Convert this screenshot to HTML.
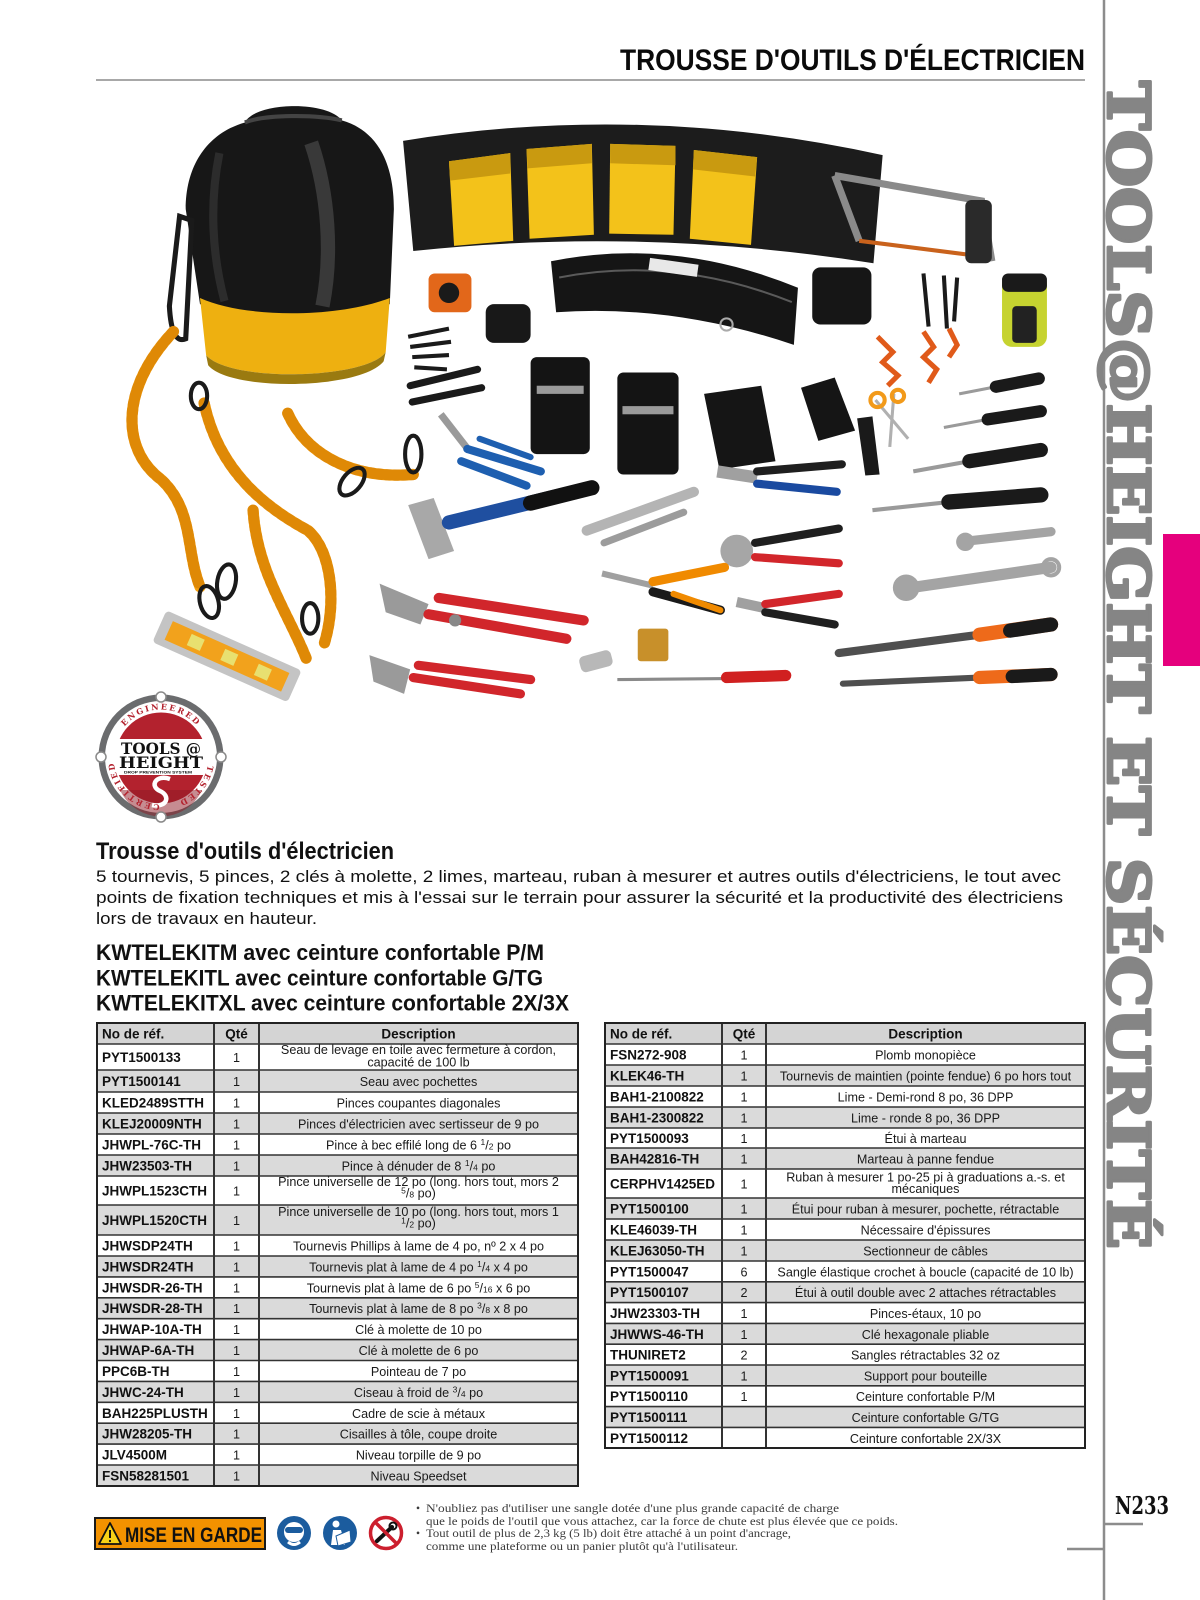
<!DOCTYPE html>
<html><head><meta charset="utf-8">
<style>
html,body{margin:0;padding:0;background:#fff;}
body{width:1200px;height:1600px;overflow:hidden;position:relative;}
svg{position:absolute;left:0;top:0;}
.r{font:bold 13.5px "Liberation Sans",sans-serif;fill:#111;}
.h{font:bold 13.5px "Liberation Sans",sans-serif;fill:#111;}
.q{font:12.6px "Liberation Sans",sans-serif;fill:#1a1a1a;text-anchor:middle;}
.d{font:12.6px "Liberation Sans",sans-serif;fill:#1a1a1a;text-anchor:middle;}
.w{font:11.5px "Liberation Serif",serif;fill:#3a3a3a;}
</style></head>
<body>
<svg width="1200" height="1600" viewBox="0 0 1200 1600" xmlns="http://www.w3.org/2000/svg">
<rect width="1200" height="1600" fill="#fff"/>

<!-- ===== Header ===== -->
<text x="620" y="70" font-family="Liberation Sans, sans-serif" font-weight="bold" font-size="29.5" fill="#0a0a0a" textLength="465" lengthAdjust="spacingAndGlyphs">TROUSSE D'OUTILS D'ÉLECTRICIEN</text>
<line x1="96" y1="80" x2="1085" y2="80" stroke="#a8a8a8" stroke-width="2"/>

<!-- right side decoration -->
<line x1="1104" y1="0" x2="1104" y2="1600" stroke="#8c8c8c" stroke-width="2.5"/>
<rect x="1163" y="534" width="37" height="132" fill="#e5007d"/>
<text transform="translate(1108,81) rotate(90)" font-family="'DejaVu Serif', 'Liberation Serif', serif" font-weight="bold" font-size="58" fill="#858585" stroke="#858585" stroke-width="3" stroke-linejoin="round" textLength="1168" lengthAdjust="spacingAndGlyphs">TOOLS@HEIGHT ET SÉCURITÉ</text>
<text x="1115" y="1514" font-family="'DejaVu Serif', 'Liberation Serif', serif" font-weight="bold" font-size="24" fill="#111" textLength="54" lengthAdjust="spacingAndGlyphs">N233</text>
<line x1="1104" y1="1524" x2="1143" y2="1524" stroke="#8c8c8c" stroke-width="2.5"/>
<line x1="1067" y1="1549" x2="1104" y2="1549" stroke="#8c8c8c" stroke-width="2.5"/>

<!-- ===== Photo (drawn in display coords, scaled) ===== -->
<g transform="scale(1.0204)">
  <!-- Bag -->
  <path d="M182 205 C 182 160, 205 130, 240 120 C 250 100, 320 98, 335 118 C 370 128, 386 160, 386 205 L 382 298 C 330 315, 240 315, 196 298 Z" fill="#171717"/>
  <path d="M240 120 C 260 112, 310 112, 335 118" stroke="#444" stroke-width="4" fill="none"/>
  <path d="M305 140 C 322 190, 326 250, 316 300" stroke="#555" stroke-width="14" fill="none" opacity=".55"/>
  <path d="M215 150 C 205 200, 208 250, 220 295" stroke="#3a3a3a" stroke-width="8" fill="none" opacity=".6"/>
  <path d="M196 292 C 240 312, 330 312, 382 292 L 378 345 C 360 372, 225 375, 202 348 Z" fill="#eeb010"/>
  <path d="M202 348 C 225 375, 360 372, 378 345 L 376 354 C 355 382, 225 384, 204 358 Z" fill="#9a7a10"/>
  <path d="M176 212 L 166 300 Q 168 338 182 332 L 188 216 Z" fill="none" stroke="#1a1a1a" stroke-width="5"/>

  <!-- Tool pouch with yellow pockets -->
  <path d="M395 138 Q 630 100 865 152 L 856 258 Q 630 222 405 246 Z" fill="#1c1c1c"/>
  <path d="M440 158 L 500 150 L 503 236 L 445 241 Z" fill="#f3c21a"/>
  <path d="M516 146 L 580 141 L 582 230 L 519 234 Z" fill="#f3c21a"/>
  <path d="M598 141 L 662 143 L 660 230 L 597 229 Z" fill="#f3c21a"/>
  <path d="M680 147 L 742 154 L 736 240 L 676 234 Z" fill="#f3c21a"/>
  <path d="M440 158 L 500 150 L 500 170 L 441 177 Z" fill="#c99a10"/>
  <path d="M516 146 L 580 141 L 580 160 L 517 165 Z" fill="#c99a10"/>
  <path d="M598 141 L 662 143 L 662 162 L 598 160 Z" fill="#c99a10"/>
  <path d="M680 147 L 742 154 L 740 173 L 679 166 Z" fill="#c99a10"/>

  <!-- Hacksaw -->
  <path d="M818 172 L 962 197 L 972 256" stroke="#8a8a8a" stroke-width="7" fill="none"/>
  <path d="M818 172 L 842 236" stroke="#8a8a8a" stroke-width="7" fill="none"/>
  <path d="M842 236 L 968 252" stroke="#c9621c" stroke-width="4" fill="none"/>
  <rect x="946" y="196" width="26" height="62" rx="6" fill="#2a2a2a"/>

  <!-- Tape measure & small pouch -->
  <rect x="420" y="268" width="42" height="38" rx="6" fill="#e2671a"/>
  <circle cx="440" cy="287" r="10" fill="#1a1a1a"/>
  <rect x="476" y="298" width="44" height="38" rx="8" fill="#181818"/>

  <!-- Belt -->
  <path d="M540 256 Q 660 232 782 282 L 778 338 Q 660 298 545 306 Z" fill="#151515"/>
  <path d="M548 272 Q 660 250 776 296" stroke="#5a5a5a" stroke-width="2" fill="none"/>
  <rect x="636" y="256" width="48" height="12" fill="#e8e8e8" transform="rotate(8 660 262)"/>
  <circle cx="712" cy="318" r="6" fill="none" stroke="#aaa" stroke-width="2"/>

  <!-- retractables, pouches -->
  <rect x="796" y="262" width="58" height="56" rx="8" fill="#161616"/>
  <path d="M905 268 L 910 320 M925 270 L 928 322 M938 272 L 935 315" stroke="#1a1a1a" stroke-width="4"/>
  <path d="M860 330 L 875 345 L 865 355 L 880 368 L 870 378 M905 325 L 915 340 L 905 350 L 918 362 L 910 375 M930 322 L 938 338 L 930 350" stroke="#e05a1a" stroke-width="5" fill="none"/>
  <rect x="982" y="268" width="44" height="72" rx="10" fill="#c6d330"/>
  <rect x="982" y="268" width="44" height="18" rx="6" fill="#1a1a1a"/>
  <rect x="992" y="300" width="24" height="36" rx="4" fill="#222"/>

  <!-- hex key, small tools -->
  <path d="M400 330 L 440 322 M402 340 L 442 335 M404 350 L 440 348 M406 360 L 438 362" stroke="#1a1a1a" stroke-width="4"/>
  <path d="M402 378 L 468 362 M404 394 L 472 380" stroke="#1a1a1a" stroke-width="7" stroke-linecap="round"/>

  <!-- black pouches -->
  <rect x="520" y="350" width="58" height="95" rx="6" fill="#141414"/>
  <rect x="526" y="378" width="46" height="8" fill="#9a9a9a"/>
  <rect x="605" y="365" width="60" height="100" rx="6" fill="#141414"/>
  <rect x="610" y="398" width="50" height="8" fill="#9a9a9a"/>
  <path d="M690 386 L 746 378 L 760 452 L 705 460 Z" fill="#151515"/>
  <path d="M785 380 L 818 370 L 838 422 L 802 432 Z" fill="#151515"/>
  <path d="M840 410 L 855 408 L 862 465 L 848 466 Z" fill="#1a1a1a"/>
  <path d="M858 392 L 890 430 M876 386 L 872 438" stroke="#b0b0b0" stroke-width="3"/>
  <circle cx="860" cy="392" r="7" fill="none" stroke="#f29a1a" stroke-width="4"/>
  <circle cx="880" cy="388" r="6" fill="none" stroke="#f29a1a" stroke-width="4"/>

  <!-- blue pliers -->
  <path d="M432 406 L 460 442" stroke="#9a9a9a" stroke-width="7"/>
  <path d="M458 440 L 530 462" stroke="#1e5fb0" stroke-width="8" stroke-linecap="round"/>
  <path d="M452 452 L 516 476" stroke="#1e5fb0" stroke-width="8" stroke-linecap="round"/>
  <path d="M470 430 L 520 448" stroke="#1e5fb0" stroke-width="6" stroke-linecap="round"/>

  <!-- hammer -->
  <path d="M400 495 L 425 488 L 445 540 L 420 548 Z" fill="#a8a8a8"/>
  <path d="M440 512 L 580 478" stroke="#1f4fa0" stroke-width="14" stroke-linecap="round"/>
  <path d="M520 493 L 580 478" stroke="#111" stroke-width="15" stroke-linecap="round"/>

  <!-- locking pliers -->
  <path d="M575 520 L 680 482" stroke="#b4b4b4" stroke-width="10" stroke-linecap="round"/>
  <path d="M592 532 L 670 502" stroke="#9c9c9c" stroke-width="7" stroke-linecap="round"/>

  <!-- pliers right-middle -->
  <path d="M703 462 L 742 468" stroke="#a0a0a0" stroke-width="12"/>
  <path d="M742 462 L 825 455" stroke="#1f1f1f" stroke-width="8" stroke-linecap="round"/>
  <path d="M742 474 L 820 482" stroke="#1a4aa0" stroke-width="8" stroke-linecap="round"/>
  <circle cx="722" cy="540" r="16" fill="#a6a6a6"/>
  <path d="M740 532 L 822 518" stroke="#1f1f1f" stroke-width="8" stroke-linecap="round"/>
  <path d="M740 546 L 822 552" stroke="#d2262b" stroke-width="8" stroke-linecap="round"/>
  <path d="M722 590 L 750 596" stroke="#a0a0a0" stroke-width="10"/>
  <path d="M750 592 L 822 582" stroke="#d2262b" stroke-width="8" stroke-linecap="round"/>
  <path d="M750 600 L 818 612" stroke="#1f1f1f" stroke-width="8" stroke-linecap="round"/>

  <!-- red water pump pliers -->
  <path d="M372 572 L 420 592 L 412 612 L 378 600 Z" fill="#9a9a9a"/>
  <path d="M430 586 L 572 608" stroke="#d1262b" stroke-width="10" stroke-linecap="round"/>
  <path d="M420 602 L 555 626" stroke="#d1262b" stroke-width="10" stroke-linecap="round"/>
  <path d="M362 642 L 402 656 L 396 680 L 366 668 Z" fill="#9a9a9a"/>
  <path d="M410 652 L 520 666" stroke="#d1262b" stroke-width="9" stroke-linecap="round"/>
  <path d="M405 664 L 510 680" stroke="#d1262b" stroke-width="9" stroke-linecap="round"/>

  <!-- tin snips -->
  <path d="M590 562 L 640 574" stroke="#a0a0a0" stroke-width="6"/>
  <path d="M640 570 L 710 556" stroke="#f08a00" stroke-width="9" stroke-linecap="round"/>
  <path d="M640 580 L 706 598" stroke="#1a1a1a" stroke-width="9" stroke-linecap="round"/>
  <path d="M660 582 L 706 598" stroke="#f08a00" stroke-width="6" stroke-linecap="round"/>

  <!-- small items -->
  <rect x="625" y="616" width="30" height="32" rx="3" fill="#c8902a"/>
  <rect x="568" y="640" width="32" height="16" rx="5" fill="#b8b8b8" transform="rotate(-15 584 648)"/>
  <path d="M605 666 L 712 665" stroke="#8a8a8a" stroke-width="3"/>
  <path d="M712 664 L 770 662" stroke="#d02020" stroke-width="11" stroke-linecap="round"/>
  <circle cx="446" cy="608" r="6" fill="#888"/>

  <!-- right screwdrivers -->
  <path d="M940 386 L 976 379" stroke="#9a9a9a" stroke-width="3"/>
  <path d="M976 379 L 1018 371" stroke="#1a1a1a" stroke-width="12" stroke-linecap="round"/>
  <path d="M925 419 L 968 411" stroke="#9a9a9a" stroke-width="3"/>
  <path d="M968 411 L 1020 403" stroke="#1a1a1a" stroke-width="12" stroke-linecap="round"/>
  <path d="M895 462 L 950 452" stroke="#9a9a9a" stroke-width="4"/>
  <path d="M950 452 L 1020 441" stroke="#1a1a1a" stroke-width="14" stroke-linecap="round"/>
  <path d="M855 500 L 930 492" stroke="#9a9a9a" stroke-width="4"/>
  <path d="M930 492 L 1020 485" stroke="#1a1a1a" stroke-width="15" stroke-linecap="round"/>

  <!-- wrenches -->
  <path d="M950 530 L 1030 521" stroke="#a4a4a4" stroke-width="9" stroke-linecap="round"/>
  <circle cx="946" cy="531" r="9" fill="#a4a4a4"/>
  <path d="M892 576 L 1030 556" stroke="#a4a4a4" stroke-width="11" stroke-linecap="round"/>
  <circle cx="888" cy="576" r="13" fill="#a4a4a4"/>
  <circle cx="1030" cy="556" r="8" fill="none" stroke="#a4a4a4" stroke-width="4"/>

  <!-- files -->
  <path d="M822 640 L 960 622" stroke="#4f4f4f" stroke-width="8" stroke-linecap="round"/>
  <path d="M960 622 L 1030 612" stroke="#ee6a1a" stroke-width="14" stroke-linecap="round"/>
  <path d="M990 618 L 1030 612" stroke="#1a1a1a" stroke-width="14" stroke-linecap="round"/>
  <path d="M826 670 L 960 664" stroke="#4f4f4f" stroke-width="6" stroke-linecap="round"/>
  <path d="M960 664 L 1030 661" stroke="#ee6a1a" stroke-width="13" stroke-linecap="round"/>
  <path d="M992 663 L 1030 661" stroke="#1a1a1a" stroke-width="13" stroke-linecap="round"/>

  <!-- orange lanyards -->
  <g fill="none" stroke-linecap="round" stroke-linejoin="round">
    <path d="M170 325 C 118 380, 118 440, 158 470 C 190 500, 182 540, 196 575" stroke="#f5a00f" stroke-width="11"/>
    <path d="M200 395 C 215 465, 265 500, 302 520 C 325 540, 330 590, 318 630" stroke="#f5a00f" stroke-width="11"/>
    <path d="M282 405 C 300 445, 345 470, 405 465" stroke="#f5a00f" stroke-width="11"/>
    <path d="M248 500 C 252 560, 282 600, 300 645" stroke="#f5a00f" stroke-width="11"/>
    <path d="M170 325 C 118 380, 118 440, 158 470 C 190 500, 182 540, 196 575" stroke="#d07a00" stroke-width="11" stroke-dasharray="3 5" opacity=".6"/>
    <path d="M200 395 C 215 465, 265 500, 302 520 C 325 540, 330 590, 318 630" stroke="#d07a00" stroke-width="11" stroke-dasharray="3 5" opacity=".6"/>
    <path d="M282 405 C 300 445, 345 470, 405 465" stroke="#d07a00" stroke-width="11" stroke-dasharray="3 5" opacity=".6"/>
    <path d="M248 500 C 252 560, 282 600, 300 645" stroke="#d07a00" stroke-width="11" stroke-dasharray="3 5" opacity=".6"/>
    <ellipse cx="205" cy="590" rx="9" ry="16" stroke="#1a1a1a" stroke-width="4" transform="rotate(-15 205 590)"/>
    <ellipse cx="345" cy="472" rx="9" ry="16" stroke="#1a1a1a" stroke-width="4" transform="rotate(40 345 472)"/>
    <ellipse cx="405" cy="445" rx="8" ry="18" stroke="#1a1a1a" stroke-width="4"/>
    <ellipse cx="222" cy="570" rx="9" ry="17" stroke="#1a1a1a" stroke-width="4" transform="rotate(10 222 570)"/>
    <ellipse cx="304" cy="606" rx="8" ry="15" stroke="#1a1a1a" stroke-width="4"/>
    <ellipse cx="195" cy="388" rx="8" ry="13" stroke="#1a1a1a" stroke-width="4"/>
  </g>

  <!-- level -->
  <g transform="translate(222 643) rotate(24)">
    <rect x="-72" y="-17" width="145" height="34" rx="4" fill="#c4c4c4"/>
    <rect x="-62" y="-10" width="125" height="20" fill="#f2a21c"/>
    <rect x="-40" y="-6" width="14" height="12" fill="#e8e070"/>
    <rect x="-4" y="-6" width="14" height="12" fill="#e8e070"/>
    <rect x="32" y="-6" width="14" height="12" fill="#e8e070"/>
  </g>
</g>

<!-- ===== Logo ===== -->
<g>
  <circle cx="161" cy="757" r="62.5" fill="#6b6c6e"/>
  <circle cx="161" cy="757" r="56" fill="#fff"/>
  <circle cx="161" cy="758" r="45.5" fill="#b3222e"/>
  <path d="M120 790 A 45 45 0 0 0 202 790 Z" fill="#8e1a24" opacity=".5"/>
  <rect x="113" y="739" width="96" height="36" fill="#fff"/>
  <text x="161" y="754" text-anchor="middle" font-family="'DejaVu Serif', 'Liberation Serif', serif" font-weight="bold" font-size="16" fill="#111" textLength="80" lengthAdjust="spacingAndGlyphs">TOOLS @</text>
  <text x="161" y="768" text-anchor="middle" font-family="'DejaVu Serif', 'Liberation Serif', serif" font-weight="bold" font-size="16" fill="#111" textLength="84" lengthAdjust="spacingAndGlyphs">HEIGHT</text>
  <text x="158" y="773.5" text-anchor="middle" font-family="Liberation Sans, sans-serif" font-weight="bold" font-size="4" fill="#111" textLength="68" lengthAdjust="spacingAndGlyphs">DROP PREVENTION SYSTEM</text>
  <path d="M170 779 C 156 774, 149 786, 160 791 C 171 796, 167 808, 152 805" stroke="#fff" stroke-width="4.5" fill="none"/>
  <defs>
    <path id="ring" d="M 113.5 757 A 47.5 47.5 0 1 1 208.5 757 A 47.5 47.5 0 1 1 113.5 757"/>
  </defs>
  <text font-family="'DejaVu Serif', 'Liberation Serif', serif" font-weight="bold" font-size="8" fill="#b3222e" letter-spacing="2">
    <textPath href="#ring" startOffset="25%" text-anchor="middle">ENGINEERED</textPath>
  </text>
  <text font-family="'DejaVu Serif', 'Liberation Serif', serif" font-weight="bold" font-size="8" fill="#b3222e" letter-spacing="2">
    <textPath href="#ring" startOffset="61%" text-anchor="middle">TESTED</textPath>
  </text>
  <text font-family="'DejaVu Serif', 'Liberation Serif', serif" font-weight="bold" font-size="8" fill="#b3222e" letter-spacing="2">
    <textPath href="#ring" startOffset="87%" text-anchor="middle">CERTIFIED</textPath>
  </text>
  <circle cx="161" cy="697" r="5" fill="#fff" stroke="#8a8a8a" stroke-width="1.5"/>
  <circle cx="101" cy="757" r="5" fill="#fff" stroke="#8a8a8a" stroke-width="1.5"/>
  <circle cx="221" cy="757" r="5" fill="#fff" stroke="#8a8a8a" stroke-width="1.5"/>
  <circle cx="161" cy="817" r="5" fill="#fff" stroke="#8a8a8a" stroke-width="1.5"/>
</g>

<!-- ===== Headings ===== -->
<text x="96" y="859" font-family="Liberation Sans, sans-serif" font-weight="bold" font-size="24.5" fill="#111" textLength="298" lengthAdjust="spacingAndGlyphs">Trousse d'outils d'électricien</text>
<g font-family="Liberation Sans, sans-serif" font-size="16.5" fill="#111">
  <text x="96" y="882" textLength="965" lengthAdjust="spacingAndGlyphs">5 tournevis, 5 pinces, 2 clés à molette, 2 limes, marteau, ruban à mesurer et autres outils d'électriciens, le tout avec</text>
  <text x="96" y="903" textLength="967" lengthAdjust="spacingAndGlyphs">points de fixation techniques et mis à l'essai sur le terrain pour assurer la sécurité et la productivité des électriciens</text>
  <text x="96" y="924" textLength="221" lengthAdjust="spacingAndGlyphs">lors de travaux en hauteur.</text>
</g>
<g font-family="Liberation Sans, sans-serif" font-weight="bold" font-size="22.5" fill="#111">
  <text x="96" y="960" textLength="448" lengthAdjust="spacingAndGlyphs">KWTELEKITM avec ceinture confortable P/M</text>
  <text x="96" y="985.7" textLength="447" lengthAdjust="spacingAndGlyphs">KWTELEKITL avec ceinture confortable G/TG</text>
  <text x="96" y="1010.7" textLength="473" lengthAdjust="spacingAndGlyphs">KWTELEKITXL avec ceinture confortable 2X/3X</text>
</g>

<!-- ===== Left table ===== -->
<g>
  <rect x="97" y="1023" width="481" height="21" fill="#d4d4d4"/>
  <rect x="97" y="1070" width="481" height="22" fill="#dadada"/>
  <rect x="97" y="1113" width="481" height="21" fill="#dadada"/>
  <rect x="97" y="1155" width="481" height="21" fill="#dadada"/>
  <rect x="97" y="1205" width="481" height="30" fill="#dadada"/>
  <rect x="97" y="1256" width="481" height="20.9" fill="#dadada"/>
  <rect x="97" y="1297.8" width="481" height="20.9" fill="#dadada"/>
  <rect x="97" y="1339.6" width="481" height="20.9" fill="#dadada"/>
  <rect x="97" y="1381.4" width="481" height="20.9" fill="#dadada"/>
  <rect x="97" y="1423.2" width="481" height="20.9" fill="#dadada"/>
  <rect x="97" y="1465" width="481" height="21" fill="#dadada"/>
  <g stroke="#333" stroke-width="1.6">
    <line x1="97" x2="578" y1="1044" y2="1044"/>
    <line x1="97" x2="578" y1="1070" y2="1070"/>
    <line x1="97" x2="578" y1="1092" y2="1092"/>
    <line x1="97" x2="578" y1="1113" y2="1113"/>
    <line x1="97" x2="578" y1="1134" y2="1134"/>
    <line x1="97" x2="578" y1="1155" y2="1155"/>
    <line x1="97" x2="578" y1="1176" y2="1176"/>
    <line x1="97" x2="578" y1="1205" y2="1205"/>
    <line x1="97" x2="578" y1="1235" y2="1235"/>
    <line x1="97" x2="578" y1="1256" y2="1256"/>
    <line x1="97" x2="578" y1="1276.9" y2="1276.9"/>
    <line x1="97" x2="578" y1="1297.8" y2="1297.8"/>
    <line x1="97" x2="578" y1="1318.7" y2="1318.7"/>
    <line x1="97" x2="578" y1="1339.6" y2="1339.6"/>
    <line x1="97" x2="578" y1="1360.5" y2="1360.5"/>
    <line x1="97" x2="578" y1="1381.4" y2="1381.4"/>
    <line x1="97" x2="578" y1="1402.3" y2="1402.3"/>
    <line x1="97" x2="578" y1="1423.2" y2="1423.2"/>
    <line x1="97" x2="578" y1="1444.1" y2="1444.1"/>
    <line x1="97" x2="578" y1="1465" y2="1465"/>
    <line x1="214" x2="214" y1="1023" y2="1486" stroke-width="2"/>
    <line x1="259" x2="259" y1="1023" y2="1486" stroke-width="2"/>
  </g>
  <rect x="97" y="1023" width="481" height="463" fill="none" stroke="#222" stroke-width="2"/>

  <text class="h" x="102" y="1038.5">No de réf.</text>
  <text class="h" x="236.5" y="1038.5" text-anchor="middle">Qté</text>
  <text class="h" x="418.5" y="1038.5" text-anchor="middle">Description</text>

  <text class="r" x="102" y="1062">PYT1500133</text><text class="q" x="236.5" y="1062">1</text>
  <text class="d" x="418.5" y="1054">Seau de levage en toile avec fermeture à cordon,</text>
  <text class="d" x="418.5" y="1066.5">capacité de 100 lb</text>

  <text class="r" x="102" y="1086">PYT1500141</text><text class="q" x="236.5" y="1086">1</text><text class="d" x="418.5" y="1086">Seau avec pochettes</text>
  <text class="r" x="102" y="1107.5">KLED2489STTH</text><text class="q" x="236.5" y="1107.5">1</text><text class="d" x="418.5" y="1107.5">Pinces coupantes diagonales</text>
  <text class="r" x="102" y="1128.5">KLEJ20009NTH</text><text class="q" x="236.5" y="1128.5">1</text><text class="d" x="418.5" y="1128.5">Pinces d'électricien avec sertisseur de 9 po</text>
  <text class="r" x="102" y="1149.5">JHWPL-76C-TH</text><text class="q" x="236.5" y="1149.5">1</text><text class="d" x="418.5" y="1149.5">Pince à bec effilé long de 6 <tspan font-size="8.5" dy="-4.5">1</tspan><tspan dy="4.5">/</tspan><tspan font-size="8.5">2</tspan> po</text>
  <text class="r" x="102" y="1170.5">JHW23503-TH</text><text class="q" x="236.5" y="1170.5">1</text><text class="d" x="418.5" y="1170.5">Pince à dénuder de 8 <tspan font-size="8.5" dy="-4.5">1</tspan><tspan dy="4.5">/</tspan><tspan font-size="8.5">4</tspan> po</text>

  <text class="r" x="102" y="1195.5">JHWPL1523CTH</text><text class="q" x="236.5" y="1195.5">1</text>
  <text class="d" x="418.5" y="1186">Pince universelle de 12 po (long. hors tout, mors 2</text>
  <text class="d" x="418.5" y="1197.5"><tspan font-size="8.5" dy="-4">5</tspan><tspan dy="4">/</tspan><tspan font-size="8.5">8</tspan> po)</text>

  <text class="r" x="102" y="1225">JHWPL1520CTH</text><text class="q" x="236.5" y="1225">1</text>
  <text class="d" x="418.5" y="1216">Pince universelle de 10 po (long. hors tout, mors 1</text>
  <text class="d" x="418.5" y="1227.5"><tspan font-size="8.5" dy="-4">1</tspan><tspan dy="4">/</tspan><tspan font-size="8.5">2</tspan> po)</text>

  <text class="r" x="102" y="1250.5">JHWSDP24TH</text><text class="q" x="236.5" y="1250.5">1</text><text class="d" x="418.5" y="1250.5">Tournevis Phillips à lame de 4 po, nº 2 x 4 po</text>
  <text class="r" x="102" y="1271.5">JHWSDR24TH</text><text class="q" x="236.5" y="1271.5">1</text><text class="d" x="418.5" y="1271.5">Tournevis plat à lame de 4 po <tspan font-size="8.5" dy="-4.5">1</tspan><tspan dy="4.5">/</tspan><tspan font-size="8.5">4</tspan> x 4 po</text>
  <text class="r" x="102" y="1292.3">JHWSDR-26-TH</text><text class="q" x="236.5" y="1292.3">1</text><text class="d" x="418.5" y="1292.3">Tournevis plat à lame de 6 po <tspan font-size="8.5" dy="-4.5">5</tspan><tspan dy="4.5">/</tspan><tspan font-size="8.5">16</tspan> x 6 po</text>
  <text class="r" x="102" y="1313.2">JHWSDR-28-TH</text><text class="q" x="236.5" y="1313.2">1</text><text class="d" x="418.5" y="1313.2">Tournevis plat à lame de 8 po <tspan font-size="8.5" dy="-4.5">3</tspan><tspan dy="4.5">/</tspan><tspan font-size="8.5">8</tspan> x 8 po</text>
  <text class="r" x="102" y="1334.1">JHWAP-10A-TH</text><text class="q" x="236.5" y="1334.1">1</text><text class="d" x="418.5" y="1334.1">Clé à molette de 10 po</text>
  <text class="r" x="102" y="1355">JHWAP-6A-TH</text><text class="q" x="236.5" y="1355">1</text><text class="d" x="418.5" y="1355">Clé à molette de 6 po</text>
  <text class="r" x="102" y="1376">PPC6B-TH</text><text class="q" x="236.5" y="1376">1</text><text class="d" x="418.5" y="1376">Pointeau de 7 po</text>
  <text class="r" x="102" y="1396.9">JHWC-24-TH</text><text class="q" x="236.5" y="1396.9">1</text><text class="d" x="418.5" y="1396.9">Ciseau à froid de <tspan font-size="8.5" dy="-4.5">3</tspan><tspan dy="4.5">/</tspan><tspan font-size="8.5">4</tspan> po</text>
  <text class="r" x="102" y="1417.8">BAH225PLUSTH</text><text class="q" x="236.5" y="1417.8">1</text><text class="d" x="418.5" y="1417.8">Cadre de scie à métaux</text>
  <text class="r" x="102" y="1438.7">JHW28205-TH</text><text class="q" x="236.5" y="1438.7">1</text><text class="d" x="418.5" y="1438.7">Cisailles à tôle, coupe droite</text>
  <text class="r" x="102" y="1459.6">JLV4500M</text><text class="q" x="236.5" y="1459.6">1</text><text class="d" x="418.5" y="1459.6">Niveau torpille de 9 po</text>
  <text class="r" x="102" y="1480.5">FSN58281501</text><text class="q" x="236.5" y="1480.5">1</text><text class="d" x="418.5" y="1480.5">Niveau Speedset</text>
</g>

<!-- ===== Right table ===== -->
<g>
  <rect x="605" y="1023" width="480" height="21" fill="#d4d4d4"/>
  <rect x="605" y="1065" width="480" height="21" fill="#dadada"/>
  <rect x="605" y="1107" width="480" height="21" fill="#dadada"/>
  <rect x="605" y="1148" width="480" height="21" fill="#dadada"/>
  <rect x="605" y="1198" width="480" height="21" fill="#dadada"/>
  <rect x="605" y="1240" width="480" height="21" fill="#dadada"/>
  <rect x="605" y="1281.8" width="480" height="20.8" fill="#dadada"/>
  <rect x="605" y="1323.4" width="480" height="20.8" fill="#dadada"/>
  <rect x="605" y="1365" width="480" height="20.8" fill="#dadada"/>
  <rect x="605" y="1406.6" width="480" height="20.8" fill="#dadada"/>
  <g stroke="#333" stroke-width="1.6">
    <line x1="605" x2="1085" y1="1044" y2="1044"/>
    <line x1="605" x2="1085" y1="1065" y2="1065"/>
    <line x1="605" x2="1085" y1="1086" y2="1086"/>
    <line x1="605" x2="1085" y1="1107" y2="1107"/>
    <line x1="605" x2="1085" y1="1128" y2="1128"/>
    <line x1="605" x2="1085" y1="1148" y2="1148"/>
    <line x1="605" x2="1085" y1="1169" y2="1169"/>
    <line x1="605" x2="1085" y1="1198" y2="1198"/>
    <line x1="605" x2="1085" y1="1219" y2="1219"/>
    <line x1="605" x2="1085" y1="1240" y2="1240"/>
    <line x1="605" x2="1085" y1="1261" y2="1261"/>
    <line x1="605" x2="1085" y1="1281.8" y2="1281.8"/>
    <line x1="605" x2="1085" y1="1302.6" y2="1302.6"/>
    <line x1="605" x2="1085" y1="1323.4" y2="1323.4"/>
    <line x1="605" x2="1085" y1="1344.2" y2="1344.2"/>
    <line x1="605" x2="1085" y1="1365" y2="1365"/>
    <line x1="605" x2="1085" y1="1385.8" y2="1385.8"/>
    <line x1="605" x2="1085" y1="1406.6" y2="1406.6"/>
    <line x1="605" x2="1085" y1="1427.4" y2="1427.4"/>
    <line x1="722" x2="722" y1="1023" y2="1448" stroke-width="2"/>
    <line x1="766" x2="766" y1="1023" y2="1448" stroke-width="2"/>
  </g>
  <rect x="605" y="1023" width="480" height="425" fill="none" stroke="#222" stroke-width="2"/>

  <text class="h" x="610" y="1038.5">No de réf.</text>
  <text class="h" x="744" y="1038.5" text-anchor="middle">Qté</text>
  <text class="h" x="925.5" y="1038.5" text-anchor="middle">Description</text>

  <text class="r" x="610" y="1059.5">FSN272-908</text><text class="q" x="744" y="1059.5">1</text><text class="d" x="925.5" y="1059.5">Plomb monopièce</text>
  <text class="r" x="610" y="1080.5">KLEK46-TH</text><text class="q" x="744" y="1080.5">1</text><text class="d" x="925.5" y="1080.5">Tournevis de maintien (pointe fendue) 6 po hors tout</text>
  <text class="r" x="610" y="1101.5">BAH1-2100822</text><text class="q" x="744" y="1101.5">1</text><text class="d" x="925.5" y="1101.5">Lime - Demi-rond 8 po, 36 DPP</text>
  <text class="r" x="610" y="1122.5">BAH1-2300822</text><text class="q" x="744" y="1122.5">1</text><text class="d" x="925.5" y="1122.5">Lime - ronde 8 po, 36 DPP</text>
  <text class="r" x="610" y="1143">PYT1500093</text><text class="q" x="744" y="1143">1</text><text class="d" x="925.5" y="1143">Étui à marteau</text>
  <text class="r" x="610" y="1163.5">BAH42816-TH</text><text class="q" x="744" y="1163.5">1</text><text class="d" x="925.5" y="1163.5">Marteau à panne fendue</text>
  <text class="r" x="610" y="1188.5">CERPHV1425ED</text><text class="q" x="744" y="1188.5">1</text>
  <text class="d" x="925.5" y="1181.5">Ruban à mesurer 1 po-25 pi à graduations a.-s. et</text>
  <text class="d" x="925.5" y="1193">mécaniques</text>
  <text class="r" x="610" y="1213.5">PYT1500100</text><text class="q" x="744" y="1213.5">1</text><text class="d" x="925.5" y="1213.5">Étui pour ruban à mesurer, pochette, rétractable</text>
  <text class="r" x="610" y="1234.5">KLE46039-TH</text><text class="q" x="744" y="1234.5">1</text><text class="d" x="925.5" y="1234.5">Nécessaire d'épissures</text>
  <text class="r" x="610" y="1255.5">KLEJ63050-TH</text><text class="q" x="744" y="1255.5">1</text><text class="d" x="925.5" y="1255.5">Sectionneur de câbles</text>
  <text class="r" x="610" y="1276.4">PYT1500047</text><text class="q" x="744" y="1276.4">6</text><text class="d" x="925.5" y="1276.4">Sangle élastique crochet à boucle (capacité de 10 lb)</text>
  <text class="r" x="610" y="1297.2">PYT1500107</text><text class="q" x="744" y="1297.2">2</text><text class="d" x="925.5" y="1297.2">Étui à outil double avec 2 attaches rétractables</text>
  <text class="r" x="610" y="1318">JHW23303-TH</text><text class="q" x="744" y="1318">1</text><text class="d" x="925.5" y="1318">Pinces-étaux, 10 po</text>
  <text class="r" x="610" y="1338.8">JHWWS-46-TH</text><text class="q" x="744" y="1338.8">1</text><text class="d" x="925.5" y="1338.8">Clé hexagonale pliable</text>
  <text class="r" x="610" y="1359.6">THUNIRET2</text><text class="q" x="744" y="1359.6">2</text><text class="d" x="925.5" y="1359.6">Sangles rétractables 32 oz</text>
  <text class="r" x="610" y="1380.4">PYT1500091</text><text class="q" x="744" y="1380.4">1</text><text class="d" x="925.5" y="1380.4">Support pour bouteille</text>
  <text class="r" x="610" y="1401.2">PYT1500110</text><text class="q" x="744" y="1401.2">1</text><text class="d" x="925.5" y="1401.2">Ceinture confortable P/M</text>
  <text class="r" x="610" y="1422">PYT1500111</text><text class="d" x="925.5" y="1422">Ceinture confortable G/TG</text>
  <text class="r" x="610" y="1442.8">PYT1500112</text><text class="d" x="925.5" y="1442.8">Ceinture confortable 2X/3X</text>
</g>

<!-- ===== Warning row ===== -->
<rect x="95" y="1518" width="170" height="31" fill="#f39200" stroke="#1a1a1a" stroke-width="2"/>
<path d="M110 1523 L 121 1544 L 99 1544 Z" fill="#f7d117" stroke="#111" stroke-width="1.8" stroke-linejoin="round"/>
<path d="M110 1530 L 110 1538" stroke="#111" stroke-width="2"/>
<circle cx="110" cy="1541" r="1.1" fill="#111"/>
<text x="125" y="1542" font-family="Liberation Sans, sans-serif" font-weight="bold" font-size="21" fill="#111" textLength="137" lengthAdjust="spacingAndGlyphs">MISE EN GARDE</text>

<circle cx="294" cy="1533" r="17" fill="#1b5c9e"/>
<circle cx="294" cy="1532" r="10" fill="#fff"/>
<rect x="285" y="1527" width="18" height="6" rx="3" fill="#1b5c9e"/>
<path d="M288 1542 Q 294 1547 300 1542" stroke="#fff" stroke-width="3" fill="none"/>

<circle cx="340" cy="1533" r="17" fill="#1b5c9e"/>
<circle cx="336" cy="1524" r="3.5" fill="#fff"/>
<path d="M331 1545 L 333 1530 L 341 1530 L 345 1545 Z" fill="#fff"/>
<path d="M336 1536 L 350 1530 L 351 1542 L 338 1546 Z" fill="#fff" stroke="#1b5c9e" stroke-width="1"/>

<circle cx="386" cy="1533" r="15.5" fill="#fff" stroke="#cc1f2e" stroke-width="3.5"/>
<path d="M377 1541 L 392 1527" stroke="#111" stroke-width="4" stroke-linecap="round"/>
<circle cx="393" cy="1526" r="3.5" fill="none" stroke="#111" stroke-width="2"/>
<path d="M375 1522 L 397 1544" stroke="#cc1f2e" stroke-width="3.5"/>

<text class="w" x="416" y="1512">•</text>
<text class="w" x="426" y="1512" textLength="413" lengthAdjust="spacingAndGlyphs">N'oubliez pas d'utiliser une sangle dotée d'une plus grande capacité de charge</text>
<text class="w" x="426" y="1525" textLength="472" lengthAdjust="spacingAndGlyphs">que le poids de l'outil que vous attachez, car la force de chute est plus élevée que ce poids.</text>
<text class="w" x="416" y="1537">•</text>
<text class="w" x="426" y="1537" textLength="365" lengthAdjust="spacingAndGlyphs">Tout outil de plus de 2,3 kg (5 lb) doit être attaché à un point d'ancrage,</text>
<text class="w" x="426" y="1550" textLength="312" lengthAdjust="spacingAndGlyphs">comme une plateforme ou un panier plutôt qu'à l'utilisateur.</text>
</svg>
</body></html>
